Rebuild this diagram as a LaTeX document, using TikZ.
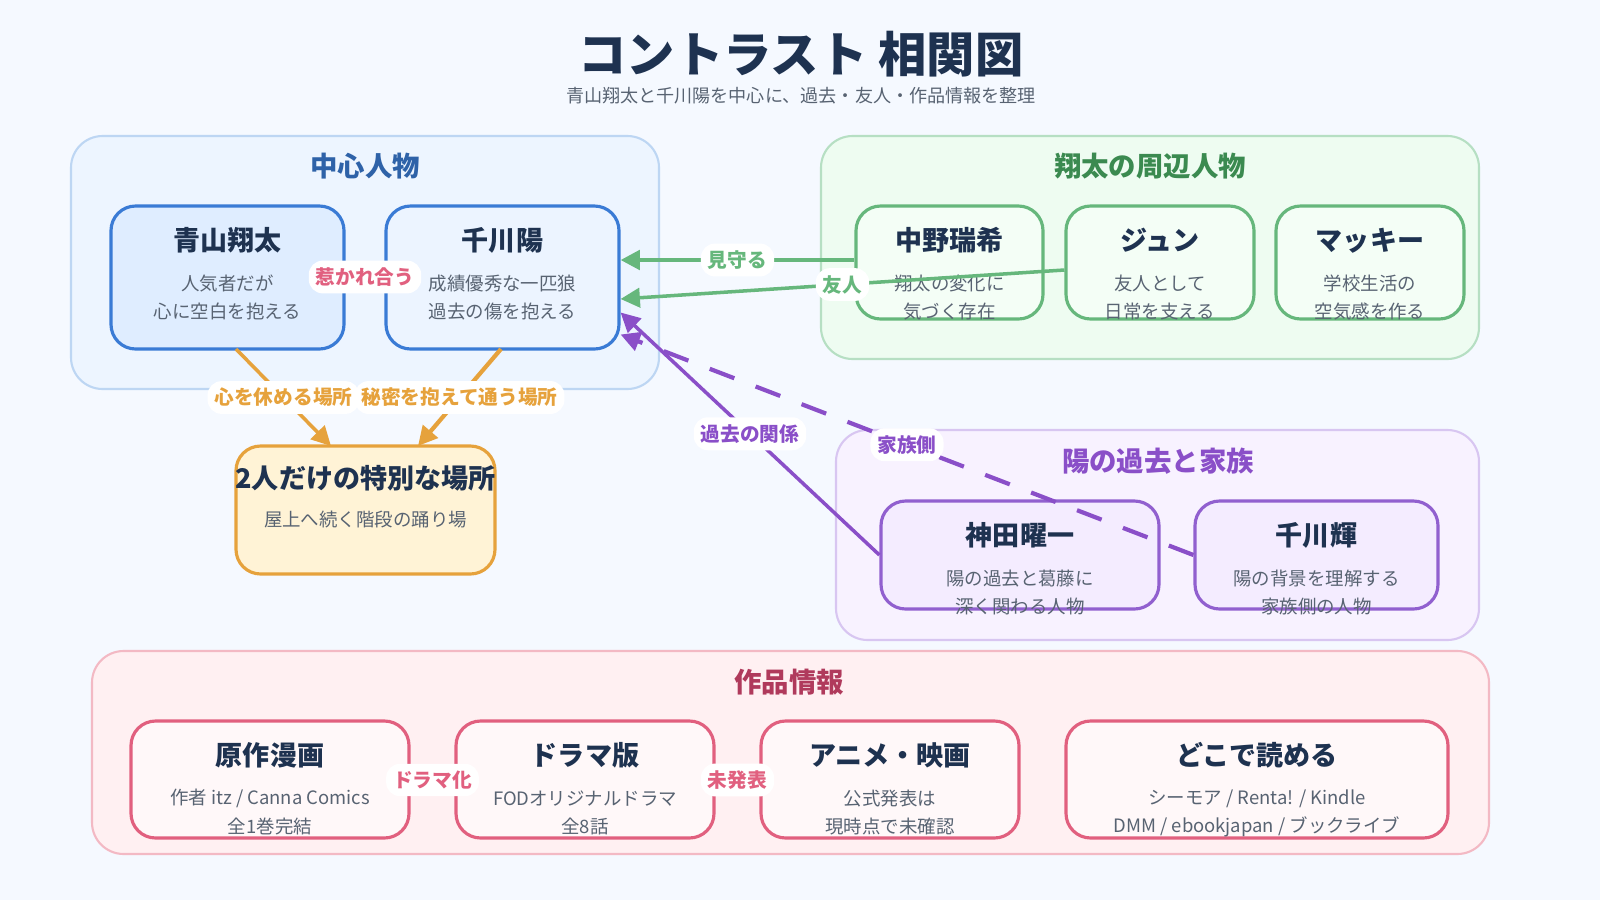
\documentclass[tikz,border=0pt]{standalone}
\usepackage{fontspec}
\setmainfont{Noto Sans CJK JP}
\usetikzlibrary{fit,calc,arrows.meta}
\definecolor{bg}{HTML}{F5F9FF}
\definecolor{navy}{HTML}{1E3250}
\definecolor{grayt}{HTML}{586372}
\definecolor{bluegf}{HTML}{EDF5FF}\definecolor{bluegd}{HTML}{BDD6F3}
\definecolor{bluef}{HTML}{DFEDFF}\definecolor{blued}{HTML}{3A7BD5}\definecolor{bluet}{HTML}{2E62A8}
\definecolor{greengf}{HTML}{EEFCF1}\definecolor{greengd}{HTML}{B6DFC3}
\definecolor{greenf}{HTML}{F4FEF6}\definecolor{greend}{HTML}{66B77C}\definecolor{greent}{HTML}{3B8A50}
\definecolor{purpgf}{HTML}{F8F2FF}\definecolor{purpgd}{HTML}{D8C6F1}
\definecolor{purpf}{HTML}{F4ECFF}\definecolor{purpd}{HTML}{9160CF}\definecolor{purpt}{HTML}{8A4FC8}
\definecolor{pinkgf}{HTML}{FFF0F2}\definecolor{pinkgd}{HTML}{F3B9C4}
\definecolor{pinkf}{HTML}{FFF8F9}\definecolor{pinkd}{HTML}{E1607F}\definecolor{pinkt}{HTML}{B03A5C}
\definecolor{orgf}{HTML}{FFF3D6}\definecolor{orgd}{HTML}{E6A23C}
\tikzset{
 grp/.style={rounded corners=18pt,line width=1.2pt,inner sep=0pt},
 crd/.style={rounded corners=14pt,line width=1.8pt,inner sep=0pt},
 gttl/.style={font=\fontsize{15.6}{18}\selectfont\bfseries},
 ttl/.style={font=\fontsize{15.4}{18}\selectfont\bfseries,text=navy},
 dsc/.style={font=\fontsize{10.5}{12}\selectfont,text=grayt},
 lab/.style={fill=white,rounded corners=8pt,font=\fontsize{11.2}{13}\selectfont\bfseries,inner sep=4pt},
 tip/.style={-{Triangle[length=11pt,width=11pt]}},
}
\newcommand\card[9]{%
 \node[crd,#2,fit={(#3,#4)(#5,#6)}] (#1) {};
 \node[ttl] at ($(#1.north)+(0,36)$) {#7};
 \node[dsc] at ($(#1.north)+(0,79)$) {#8};
 \node[dsc] at ($(#1.north)+(0,107)$) {#9};}
\begin{document}
\begin{tikzpicture}[x=0.02cm,y=-0.02cm]
\fill[bg] (0,0) rectangle (1600,900);
\useasboundingbox (0,0) rectangle (1600,900);
\node[font=\fontsize{27.5}{32}\selectfont\bfseries,text=navy] (title) at (801,54) {コントラスト 相関図};
\node[font=\fontsize{10.3}{12}\selectfont,text=grayt] (sub) at (801,96) {青山翔太と千川陽を中心に、過去・友人・作品情報を整理};
% groups
\node[grp,draw=bluegd,fill=bluegf,fit={(71,136)(659,389)}] (g1) {};
\node[gttl,text=bluet] at (365,166) {中心人物};
\node[grp,draw=greengd,fill=greengf,fit={(821,136)(1479,359)}] (g2) {};
\node[gttl,text=greent] at (1150,166) {翔太の周辺人物};
\node[grp,draw=purpgd,fill=purpgf,fit={(836,430)(1479,640)}] (g3) {};
\node[gttl,text=purpt] at (1158,461) {陽の過去と家族};
\node[grp,draw=pinkgd,fill=pinkgf,fit={(92,651)(1489,854)}] (g4) {};
\node[gttl,text=pinkt] at (789,682) {作品情報};
% cards
\card{aoyama}{draw=blued,fill=bluef}{111}{206}{344}{349}{青山翔太}{人気者だが}{心に空白を抱える}
\card{you}{draw=blued,fill=bluef!60!white}{386}{206}{619}{349}{千川陽}{成績優秀な一匹狼}{過去の傷を抱える}
\card{nakano}{draw=greend,fill=greenf}{856}{206}{1043}{319}{中野瑞希}{翔太の変化に}{気づく存在}
\card{jun}{draw=greend,fill=greenf}{1066}{206}{1254}{319}{ジュン}{友人として}{日常を支える}
\card{makki}{draw=greend,fill=greenf}{1276}{206}{1464}{319}{マッキー}{学校生活の}{空気感を作る}
\card{kanda}{draw=purpd,fill=purpf}{881}{501}{1159}{609}{神田曜一}{陽の過去と葛藤に}{深く関わる人物}
\card{hikaru}{draw=purpd,fill=purpf}{1195}{501}{1438}{609}{千川輝}{陽の背景を理解する}{家族側の人物}
\node[crd,draw=orgd,fill=orgf,fit={(236,446)(495,574)}] (place) {};
\node[ttl] at ($(place.north)+(0,34)$) {2人だけの特別な場所};
\node[dsc] at ($(place.north)+(0,75)$) {屋上へ続く階段の踊り場};
\card{gensaku}{draw=pinkd,fill=pinkf}{131}{721}{409}{838}{原作漫画}{作者 itz / Canna Comics}{全1巻完結}
\card{drama}{draw=pinkd,fill=pinkf}{456}{721}{714}{838}{ドラマ版}{FODオリジナルドラマ}{全8話}
\card{anime}{draw=pinkd,fill=pinkf}{761}{721}{1019}{838}{アニメ・映画}{公式発表は}{現時点で未確認}
\card{where}{draw=pinkd,fill=pinkf}{1066}{721}{1448}{838}{どこで読める}{シーモア / Renta! / Kindle}{DMM / ebookjapan / ブックライブ}
% edges
\draw[line width=2pt,purpt,tip] (kanda.west) -- node[lab,text=purpt]{過去の関係} ($(you.east)+(0,35)$);
\draw[line width=2.4pt,purpt,tip,dash pattern=on 15pt off 13pt] (hikaru.west) -- node[lab,text=purpt]{家族側} ($(you.east)+(0,57)$);
\draw[line width=2.4pt,greend,tip] (nakano.west|-0,260) -- node[lab,text=greend]{見守る} (you.east|-0,260);
\draw[line width=2pt,greend,tip] (jun.west|-0,270) -- node[lab,text=greend]{友人} (you.east|-0,299);
\draw[line width=2pt,orgd,tip] (236,349) -- node[lab,text=orgd]{心を休める場所} (331,446);
\draw[line width=2.4pt,orgd,tip] (501,349) -- node[lab,text=orgd]{秘密を抱えて通う場所} (418,446);
\path (aoyama.east|-0,277) -- node[lab,text=pinkd]{惹かれ合う} (you.west|-0,277);
\path (gensaku.east|-0,780) -- node[lab,text=pinkd]{ドラマ化} (drama.west|-0,780);
\path (drama.east|-0,780) -- node[lab,text=pinkd]{未発表} (anime.west|-0,780);
\end{tikzpicture}
\end{document}
